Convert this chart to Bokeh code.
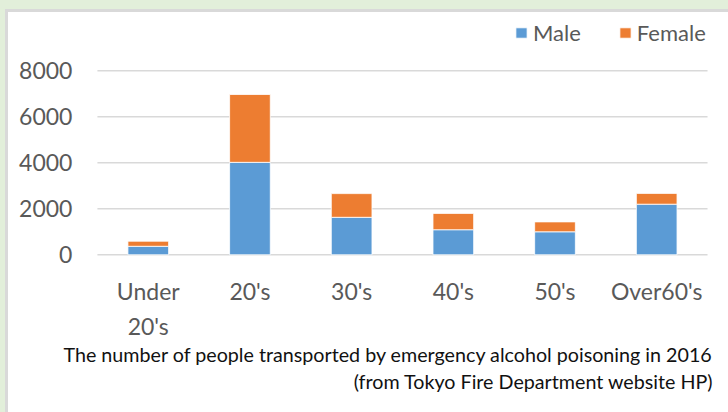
from bokeh.plotting import figure
from bokeh.models import ColumnDataSource, Legend, LegendItem, Range1d, Label
from bokeh.core.properties import value
from bokeh.embed import file_html
from bokeh.resources import INLINE

# ---- data ----
categories = ["Under 20's", "20's", "30's", "40's", "50's", "Over60's"]
x_labels = ["Under\n20's", "20's", "30's", "40's", "50's", "Over60's"]
male = [370, 4020, 1630, 1090, 1000, 2200]
female = [220, 2950, 1030, 710, 430, 470]
y_ticks = [0, 2000, 4000, 6000, 8000]
y_labels = ["0", "2000", "4000", "6000", "8000"]
caption_lines = [
    "The number of people transported by emergency alcohol poisoning in 2016",
    "(from Tokyo Fire Department website HP)",
]

BLUE = "#5b9bd5"
ORANGE = "#ed7d31"
TXT = "#595959"
FONT = "Lato"

n = len(categories)
xs = list(range(n))
source = ColumnDataSource(dict(x=xs, cat=categories, label=x_labels, male=male, female=female))
ytick_src = ColumnDataSource(dict(y=y_ticks, label=y_labels,
                                  x0=[-0.5] * len(y_ticks), x1=[n - 0.5] * len(y_ticks)))

# plot frame covers the whole canvas; data ranges chosen so the bar area sits
# where the reference draws it
p = figure(
    x_range=Range1d(-0.5 - 0.904, n - 0.5 + 0.275),
    y_range=Range1d(-7161, 10665),
    width=730, height=410,
    x_axis_type=None, y_axis_type=None,
    output_backend="svg", toolbar_location=None,
    min_border=0,
)
p.xgrid.visible = False
p.ygrid.visible = False
p.background_fill_color = "white"
p.border_fill_color = "white"
p.outline_line_color = "#d9d9d9"
p.outline_line_width = 5

# gridlines
p.segment(x0="x0", x1="x1", y0="y", y1="y", source=ytick_src,
          line_color="#d9d9d9", line_width=1.6)

renderers = p.vbar_stack(["male", "female"], x="x", width=0.4, color=[BLUE, ORANGE],
                         line_color="white", line_width=0.8, source=source)

# y tick labels
p.text(x="x0", y="y", text="label", source=ytick_src, x_offset=-25,
       text_align="right", text_baseline="middle",
       text_font=value(FONT), text_font_size="23px", text_color=TXT)

# category labels
p.text(x="x", y=0, text="label", source=source, y_offset=22,
       text_align="center", text_baseline="top", text_line_height=1.25,
       text_font=value(FONT), text_font_size="23px", text_color=TXT)

legend = Legend(
    items=[LegendItem(label="Male", renderers=[renderers[0]]),
           LegendItem(label="Female", renderers=[renderers[1]])],
    orientation="horizontal", location=(509, 373),
    border_line_color=None, background_fill_alpha=0,
    padding=0, margin=0, spacing=37, label_standoff=5,
    glyph_width=14, glyph_height=13,
    label_text_font=FONT, label_text_font_size="22px", label_text_color=TXT,
)
p.add_layout(legend)

for i, line in enumerate(caption_lines):
    p.add_layout(Label(x=708, y=65 - 27 * i, x_units="screen", y_units="screen",
                       text=line, text_align="right", text_baseline="alphabetic",
                       text_font=FONT, text_font_size="19.7px", text_color="#111111"))

template = """
{% block postamble %}
<style>html, body { overflow: hidden; } body { background: #e2efda; padding: 9px 0 0 5px; }</style>
{% endblock %}
"""
open("out.html", "w").write(file_html(p, INLINE, template=template))
